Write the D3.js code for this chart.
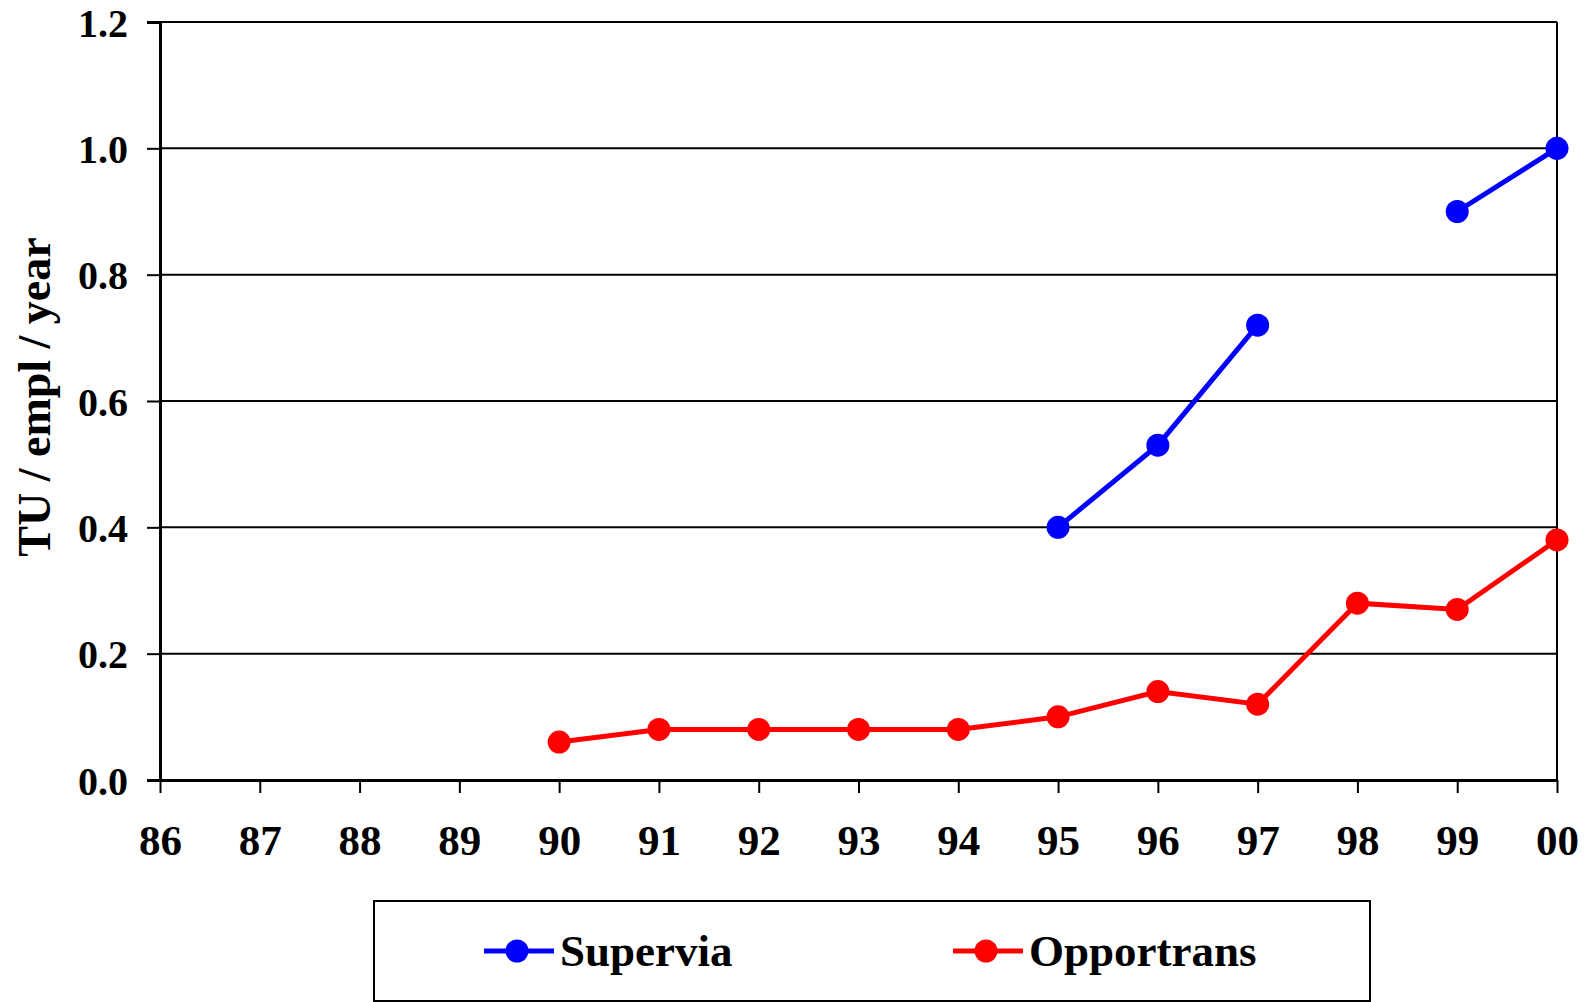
<!DOCTYPE html>
<html><head><meta charset="utf-8">
<script src="https://cdn.jsdelivr.net/npm/d3@7"></script>
<style>body{margin:0;background:#fff}svg{display:block}</style>
</head><body>
<svg id="c" width="1587" height="1002"></svg>
<script>
const years = ["86","87","88","89","90","91","92","93","94","95","96","97","98","99","00"];
const yTicks = [0.0,0.2,0.4,0.6,0.8,1.0,1.2];
const supervia = [null,null,null,null,null,null,null,null,null,0.40,0.53,0.72,null,0.90,1.00];
const opportrans = [null,null,null,null,0.06,0.08,0.08,0.08,0.08,0.10,0.14,0.12,0.28,0.27,0.38];
const seriesNames = ["Supervia","Opportrans"];
const seriesColors = ["#0000ff","#ff0000"];

const svg = d3.select("#c");
const L=160,R=1557,T=22,B=780;
const x = d3.scalePoint().domain(years).range([L,R]);
const y = d3.scaleLinear().domain([0,1.2]).range([B,T]);
const font = "'Liberation Serif','Times New Roman',serif";

svg.append("g").selectAll("line").data(yTicks.filter(d=>d>0)).join("line")
  .attr("x1",L).attr("x2",R).attr("y1",d=>y(d)).attr("y2",d=>y(d))
  .attr("stroke","#000").attr("stroke-width",2);
svg.append("line").attr("x1",R).attr("x2",R).attr("y1",T).attr("y2",B).attr("stroke","#000").attr("stroke-width",2);

const ya = svg.append("g").attr("transform",`translate(${L},0)`)
  .call(d3.axisLeft(y).tickValues(yTicks).tickFormat(d3.format(".1f")).tickSize(13).tickPadding(19));
ya.select(".domain").attr("stroke-width",3);
ya.selectAll(".tick line").attr("stroke-width",2);
ya.selectAll("text").attr("font-family",font).attr("font-weight","bold").attr("font-size",40).attr("fill","#000").attr("dy","0.35em");

const xa = svg.append("g").attr("transform",`translate(0,${B})`)
  .call(d3.axisBottom(x).tickSize(13).tickPadding(31).tickSizeOuter(0));
xa.select(".domain").attr("stroke-width",3);
xa.selectAll(".tick line").attr("stroke-width",2);
xa.selectAll("text").attr("font-family",font).attr("font-weight","bold").attr("font-size",43).attr("fill","#000");

svg.append("text").attr("transform",`translate(50,397) rotate(-90)`)
  .attr("text-anchor","middle").attr("font-family",font).attr("font-weight","bold").attr("font-size",46)
  .text("TU / empl / year");

const line = d3.line().defined(d=>d.v!=null).x(d=>x(d.k)).y(d=>y(d.v));
[supervia,opportrans].forEach((s,i)=>{
  const data = years.map((k,j)=>({k,v:s[j]}));
  svg.append("path").datum(data).attr("d",line).attr("fill","none")
    .attr("stroke",seriesColors[i]).attr("stroke-width",5);
  svg.append("g").selectAll("circle").data(data.filter(d=>d.v!=null)).join("circle")
    .attr("cx",d=>x(d.k)).attr("cy",d=>y(d.v)).attr("r",11.5).attr("fill",seriesColors[i]);
});

svg.append("rect").attr("x",374).attr("y",901).attr("width",996).attr("height",100)
  .attr("fill","none").attr("stroke","#000").attr("stroke-width",2);
const lx=[484,953];
seriesNames.forEach((n,i)=>{
  const g=svg.append("g");
  g.append("line").attr("x1",lx[i]).attr("x2",lx[i]+70).attr("y1",951).attr("y2",951)
   .attr("stroke",seriesColors[i]).attr("stroke-width",5);
  g.append("circle").attr("cx",lx[i]+33).attr("cy",951).attr("r",11.5).attr("fill",seriesColors[i]);
  g.append("text").attr("x",lx[i]+76).attr("y",966)
   .attr("font-family",font).attr("font-weight","bold").attr("font-size",45).text(n);
});
</script>
</body></html>
